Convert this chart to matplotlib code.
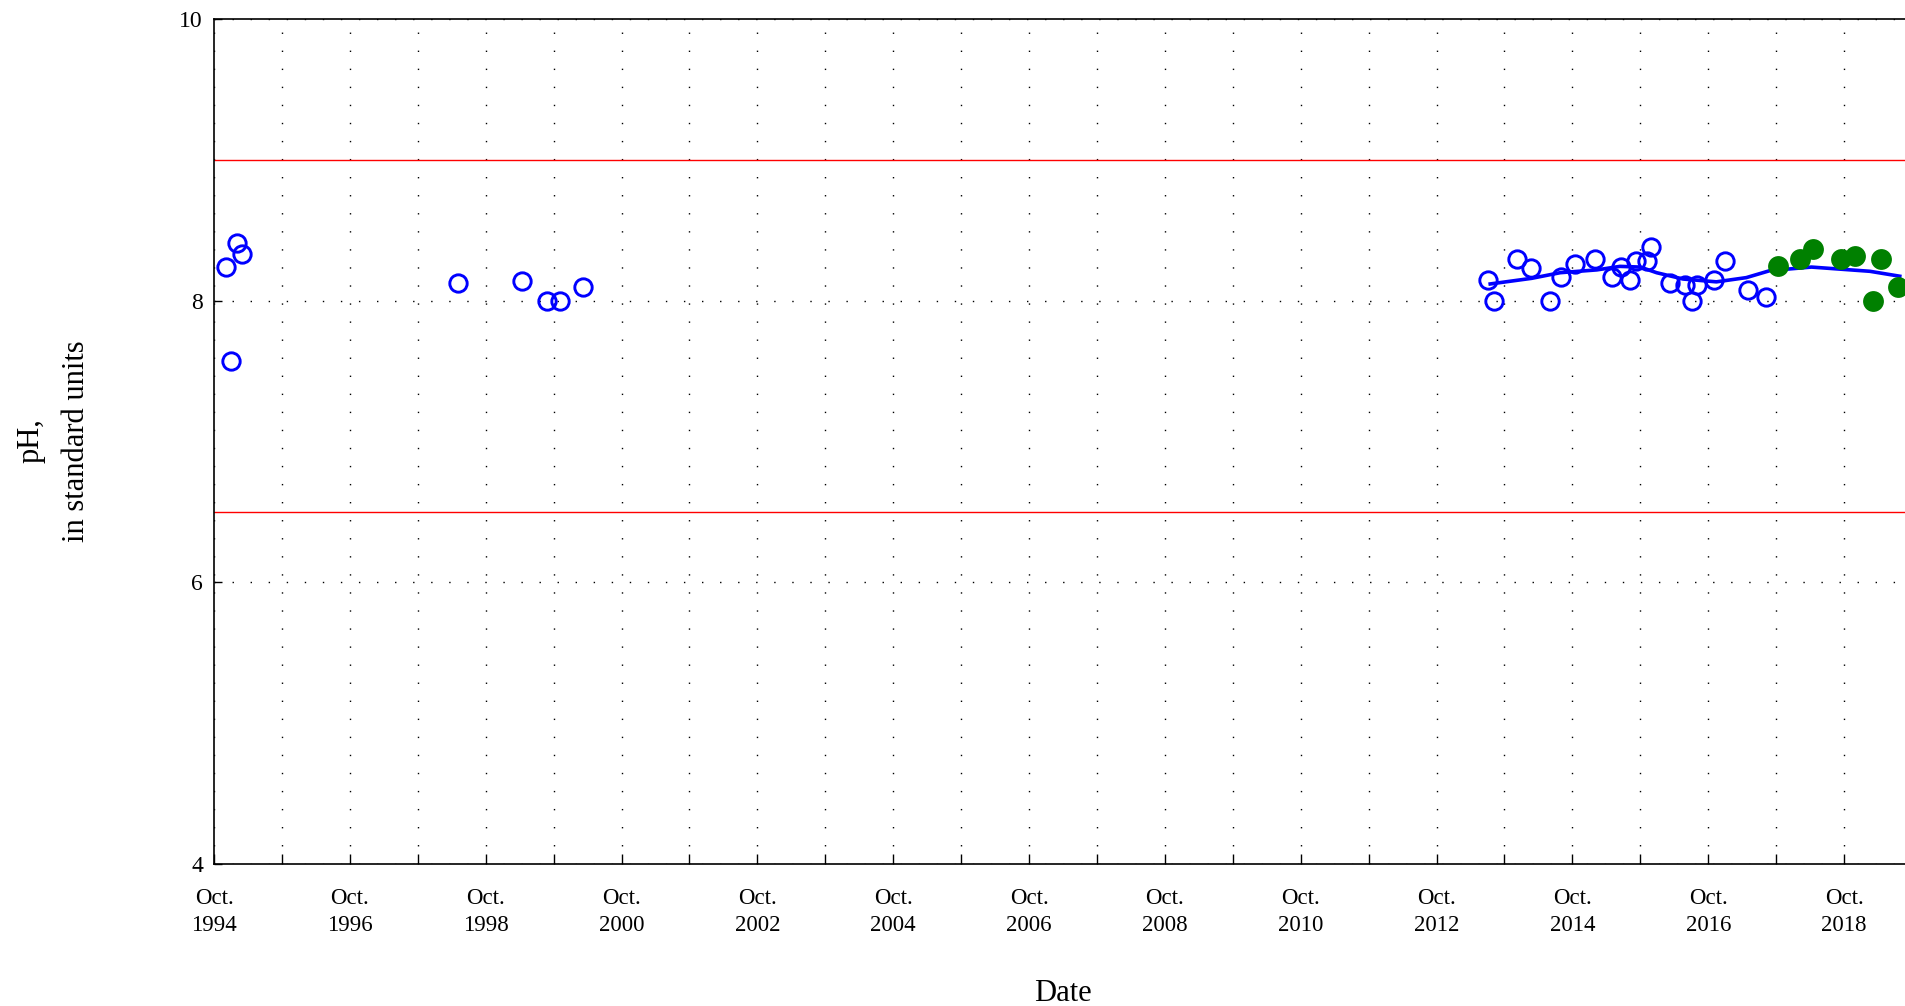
import matplotlib
matplotlib.use('Agg')
import matplotlib.pyplot as plt

# sample dates as decimal years, pH in standard units
OPEN_YEARS = [1994.92, 1995.00, 1995.09, 1995.16, 1998.34, 1999.28, 1999.65, 1999.85, 2000.19,
              2013.51, 2013.59, 2013.93, 2014.14, 2014.42, 2014.58, 2014.79, 2015.08, 2015.34,
              2015.47, 2015.60, 2015.69, 2015.85, 2015.91, 2016.19, 2016.41, 2016.51, 2016.59,
              2016.83, 2016.99, 2017.34, 2017.60]
OPEN_PH = [8.24, 7.57, 8.41, 8.33, 8.13, 8.14, 8.00, 8.00, 8.10,
           8.15, 8.00, 8.30, 8.23, 8.00, 8.17, 8.26, 8.30, 8.17,
           8.24, 8.15, 8.28, 8.28, 8.38, 8.13, 8.11, 8.00, 8.11,
           8.15, 8.28, 8.08, 8.03]

FILLED_YEARS = [2017.77, 2018.10, 2018.29, 2018.71, 2018.91, 2019.17, 2019.29, 2019.55]
FILLED_PH = [8.25, 8.30, 8.37, 8.30, 8.32, 8.00, 8.30, 8.10]

TREND_YEARS = [2013.54, 2014.15, 2014.57, 2015.11, 2015.45, 2015.75, 2015.99, 2016.38,
               2016.87, 2017.31, 2017.66, 2018.27, 2019.13, 2019.57]
TREND_PH = [8.12, 8.16, 8.20, 8.22, 8.245, 8.24, 8.20, 8.155,
            8.135, 8.165, 8.215, 8.24, 8.21, 8.175]

UPPER_LIMIT = 9.0
LOWER_LIMIT = 6.5

TICK_YEARS = [1994.75 + i for i in range(26)]
TICK_LABELS = [f"Oct.\n{1994 + i}" if i % 2 == 0 else "" for i in range(26)]
Y_TICKS = [4, 6, 8, 10]

plt.rcParams['font.family'] = ['Liberation Serif', 'DejaVu Serif']

W, H = 1905, 1006
fig = plt.figure(figsize=(W / 100, H / 100), dpi=100)
# axes runs a little past the right edge of the picture, as in the original
ax = fig.add_axes([214 / W, 1 - 863.5 / H, 1698 / W, 844 / H])

ax.axhline(UPPER_LIMIT, color='#ff0000', lw=1.0, zorder=2)
ax.axhline(LOWER_LIMIT, color='#ff0000', lw=1.0, zorder=2)

ax.plot(TREND_YEARS, TREND_PH, color='#0000ff', lw=2.6, zorder=3)
ax.plot(OPEN_YEARS, OPEN_PH, linestyle='none', marker='o', ms=12.5, mfc='none',
        mec='#0000ff', mew=2.1, zorder=4)
ax.plot(FILLED_YEARS, FILLED_PH, linestyle='none', marker='o', ms=15,
        color='#008000', mew=0, zorder=4)

ax.set_xlim(TICK_YEARS[0], TICK_YEARS[-1])
ax.set_ylim(4, 10)
ax.set_xticks(TICK_YEARS)
ax.set_xticklabels(TICK_LABELS, linespacing=1.35)
ax.set_yticks(Y_TICKS)
ax.set_yticklabels([str(v) for v in Y_TICKS])

ax.grid(True, color='black', linestyle=(0, (1, 12)), linewidth=1.0)
ax.set_axisbelow(True)

ax.tick_params(axis='x', direction='in', length=7, width=1.0, pad=18, labelsize=16.5)
ax.tick_params(axis='y', direction='in', length=6, width=1.0, pad=8, labelsize=17)
ax.tick_params(top=False, right=False)
for side in ['left', 'bottom', 'top', 'right']:
    ax.spines[side].set_linewidth(1.2)

ax.set_xlabel("Date", fontsize=22)
ax.xaxis.set_label_coords(0.5, -0.137)
fig.text(54 / W, 1 - 441 / H, "pH,\nin standard units", rotation=90, ha='center', va='center',
         multialignment='center', fontsize=22, linespacing=1.75)

fig.savefig("out.png", dpi=100)
